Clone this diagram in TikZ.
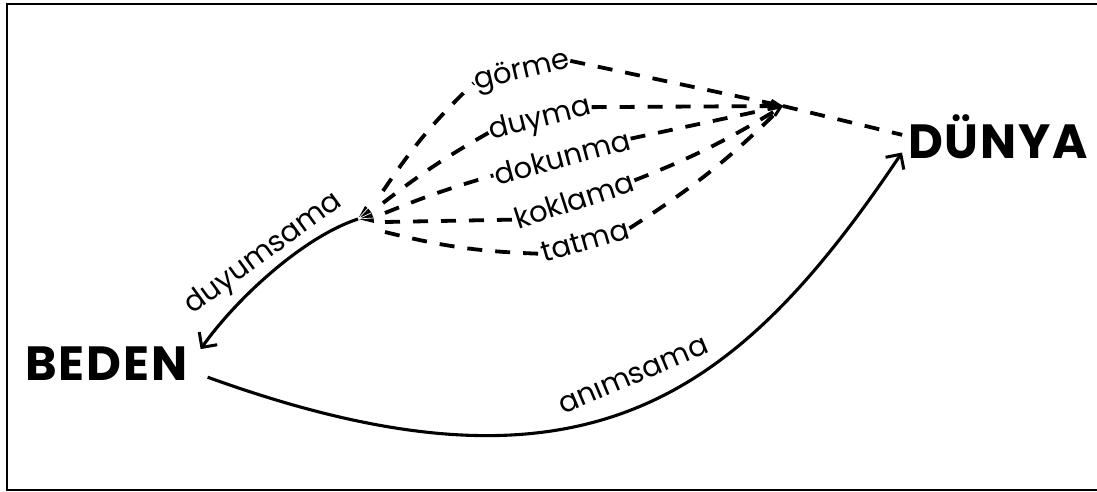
\documentclass[tikz,border=0pt]{standalone}
\usepackage{fontspec}
\setmainfont{Poppins}
\newfontfamily\titlefont[LetterSpace=4]{Poppins}
\usetikzlibrary{arrows.meta}
\begin{document}
\begin{tikzpicture}[x=1pt,y=-1pt,
  word/.style={font=\fontsize{29}{29}\selectfont, inner sep=1pt},
  big/.style={font=\titlefont\bfseries\fontsize{48}{48}\selectfont, inner sep=0pt},
  dsh/.style={line width=3.8pt, dash pattern=on 15pt off 13pt},
  arr/.style={line width=3.1pt, -{Straight Barb[length=11pt,width=22pt,line width=3pt]}}]
\useasboundingbox (0,0) rectangle (1097,492);
\draw[line width=2.5pt] (1100,4) -- (7,4) -- (7,490) -- (1100,490);
% main nodes
\node[big, anchor=base west] (beden) at (25,380) {BEDEN};
\node[big, anchor=base west] (dunya) at (908,158) {DÜNYA};
% sense words
\node[word, rotate=13] (gorme) at (522,72) {görme};
\node[word, rotate=14] (duyma) at (540,120) {duyma};
\node[word, rotate=15] (dokunma) at (562,157) {dokunma};
\node[word, rotate=18] (koklama) at (574,200) {koklama};
\node[word, rotate=16] (tatma) at (585,241) {tatma};
% coordinates
\coordinate (fan) at (358,219);
\coordinate (s1) at (383,191);
\coordinate (s2) at (383,203);
\coordinate (s3) at (385,213);
\coordinate (s4) at (385,222);
\coordinate (s5) at (385,232);
\coordinate (c) at (783,106);
% fan (arrow fletching)
\fill (fan) -- (365,206) .. controls (370,209) and (374,215) .. (374,223) -- cycle;
\draw[white, line width=0.7pt] (fan) -- (368,208) (fan) -- (371,213) (fan) -- (373,218);
% dashed lines from fan to words
\draw[dsh] (s1) to[bend left=6] (gorme.west);
\draw[dsh] (s2) to[bend left=4] (duyma.west);
\draw[dsh] (s3) to[bend left=3] (dokunma.west);
\draw[dsh] (s4) -- (koklama.west);
\draw[dsh] (s5) to[bend right=6] (tatma.west);
% dashed lines from words to convergence
\draw[dsh] (gorme.east) -- (c);
\draw[dsh] (duyma.east) -- (c);
\draw[dsh, -{Straight Barb[length=8pt,width=16pt,line width=3pt]}] (dokunma.east) -- (c);
\draw[dsh] (koklama.east) to[bend right=5] (c);
\draw[dsh] (tatma.east) to[bend right=6] (c);
\draw[dsh, shorten >=6pt] (c) -- (dunya.west);
% solid arrows
\draw[arr] (fan) .. controls (303,237) and (236,299) .. ([shift={(13,3)}]beden.north east);
\draw[arr] ([shift={(20,-3)}]beden.south east) .. controls (583,513) and (735,401) .. ([shift={(-6,-6)}]dunya.south west);
% labels on arrows
\node[word, rotate=36] (lduy) at (264,254) {duyumsama};
\node[word, rotate=23] (lanim) at (634,376) {anımsama};
\end{tikzpicture}
\end{document}
